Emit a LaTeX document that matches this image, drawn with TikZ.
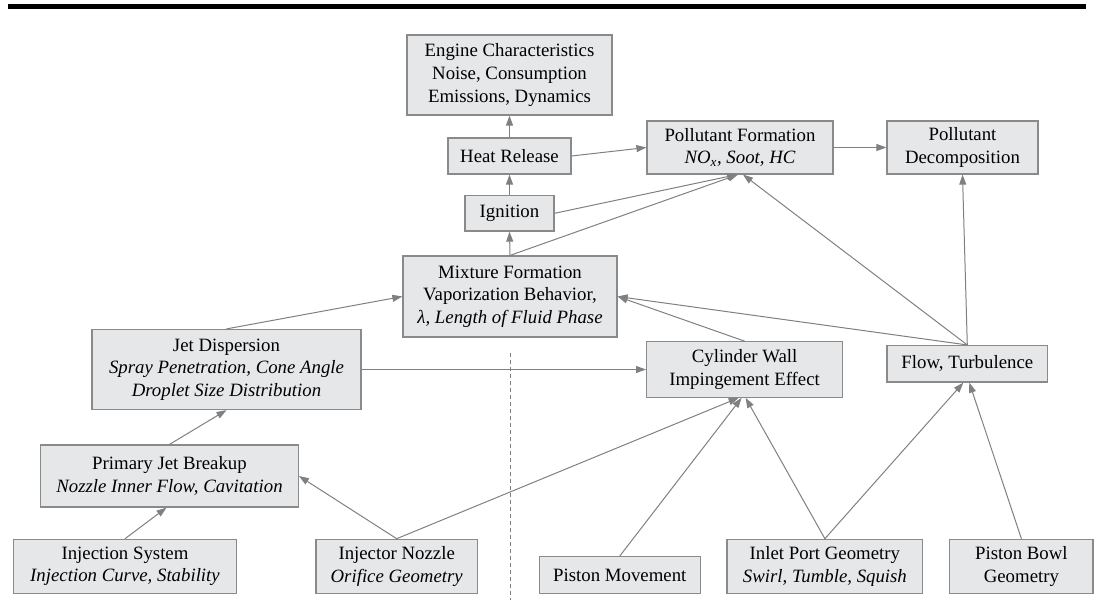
\documentclass[tikz,border=0pt]{standalone}
\usepackage{fontspec}
\setmainfont{Liberation Serif}
\usetikzlibrary{arrows.meta}
\definecolor{boxfill}{RGB}{230,231,233}
\definecolor{boxline}{RGB}{138,138,138}
\definecolor{linkgray}{RGB}{128,128,128}

\begin{document}
\begin{tikzpicture}[x=1pt,y=-1pt,
  box/.style={draw=boxline, fill=boxfill, line width=1.2pt, inner sep=0pt,
    align=center, font=\fontsize{18.8}{22.7}\selectfont},
  sz/.style 2 args={minimum width=#1pt, minimum height=#2pt},
  link/.style={draw=linkgray, line width=1pt,
    -{Triangle[length=10pt,width=7pt]}},
  divider/.style={draw=linkgray, line width=1pt, dash pattern=on 4pt off 3pt},
]
\useasboundingbox (0,0) rectangle (1096,607);

% heading rule
\coordinate (ruleL) at (8,6.5);
\coordinate (ruleR) at (1086,6.5);
\draw[line width=4.5pt] (ruleL) -- (ruleR);

% combustion chain
\node[box, sz={205}{80}] (eng) at (509.5,75)
  {Engine Characteristics\\Noise, Consumption\\Emissions, Dynamics};
\node[box, sz={123}{36}] (heat) at (509.5,156) {Heat Release};
\node[box, sz={89}{35.5}] (ign) at (509.5,213.3) {Ignition};
\node[box, sz={214}{81}] (mix) at (510,296.5)
  {Mixture Formation\\Vaporization Behavior,\\\itshape λ, Length of Fluid Phase};
\node[box, sz={186}{53}] (pf) at (740,147.5)
  {Pollutant Formation\\\itshape NO\textsubscript{x}, Soot, HC};
\node[box, sz={151}{53}] (pd) at (962.5,147.5) {Pollutant\\Decomposition};

% spray side
\node[box, sz={269}{80}] (jet) at (226.5,369.5)
  {Jet Dispersion\\\itshape Spray Penetration, Cone Angle\\\itshape Droplet Size Distribution};
\node[box, sz={257.6}{62}] (prim) at (169.5,476)
  {Primary Jet Breakup\\\itshape Nozzle Inner Flow, Cavitation};
\node[box, sz={223.4}{54}] (inj) at (125,566.3)
  {Injection System\\\itshape Injection Curve, Stability};
\node[box, sz={161.3}{54}] (noz) at (396.7,566.3)
  {Injector Nozzle\\\itshape Orifice Geometry};

% in-cylinder side
\node[box, sz={196}{55.5}] (cyl) at (744.6,369.5)
  {Cylinder Wall\\Impingement Effect};
\node[box, sz={160.5}{36.5}] (flow) at (967.3,363.8) {Flow, Turbulence};
\node[box, sz={161.2}{36.8}] (pm) at (619.8,575) {Piston Movement};
\node[box, sz={195.8}{54}] (inlet) at (824.9,566.3)
  {Inlet Port Geometry\\\itshape Swirl, Tumble, Squish};
\node[box, sz={143.2}{54}] (bowl) at (1021.4,566.3) {Piston Bowl\\Geometry};

% divider between spray and in-cylinder influences
\coordinate (divTop) at (510,353);
\coordinate (divBot) at (510,600);
\draw[divider] (divTop) -- (divBot);

% connections
\draw[link] (heat.north) -- (eng.south);
\draw[link] (ign.north) -- (heat.south);
\draw[link] (mix.north) -- (ign.south);
\draw[link] (heat.east) -- (pf.west);
\draw[link] (ign.east) -- ([xshift=-3pt]pf.south);
\draw[link] (mix.north) -- ([xshift=-2pt]pf.south);
\draw[link] (flow.north) -- ([xshift=3pt]pf.south);
\draw[link] (pf.east) -- (pd.west);
\draw[link] (flow.north) -- (pd.south);
\draw[link] (flow.north) -- (mix.east);
\draw[link] (cyl.north) -- (mix.east);
\draw[link] (jet.north) -- (mix.west);
\draw[link] (jet.east) -- (cyl.west);
\draw[link] (prim.north) -- (jet.south);
\draw[link] (inj.north) -- ([xshift=-3pt]prim.south);
\draw[link] (noz.north) -- (prim.east);
\draw[link] (noz.north) -- ([xshift=-6pt]cyl.south);
\draw[link] (pm.north) -- ([xshift=-3pt]cyl.south);
\draw[link] (inlet.north) -- ([xshift=1pt]cyl.south);
\draw[link] (inlet.north) -- ([xshift=-4pt]flow.south);
\draw[link] (bowl.north) -- ([xshift=2pt]flow.south);
\end{tikzpicture}
\end{document}
